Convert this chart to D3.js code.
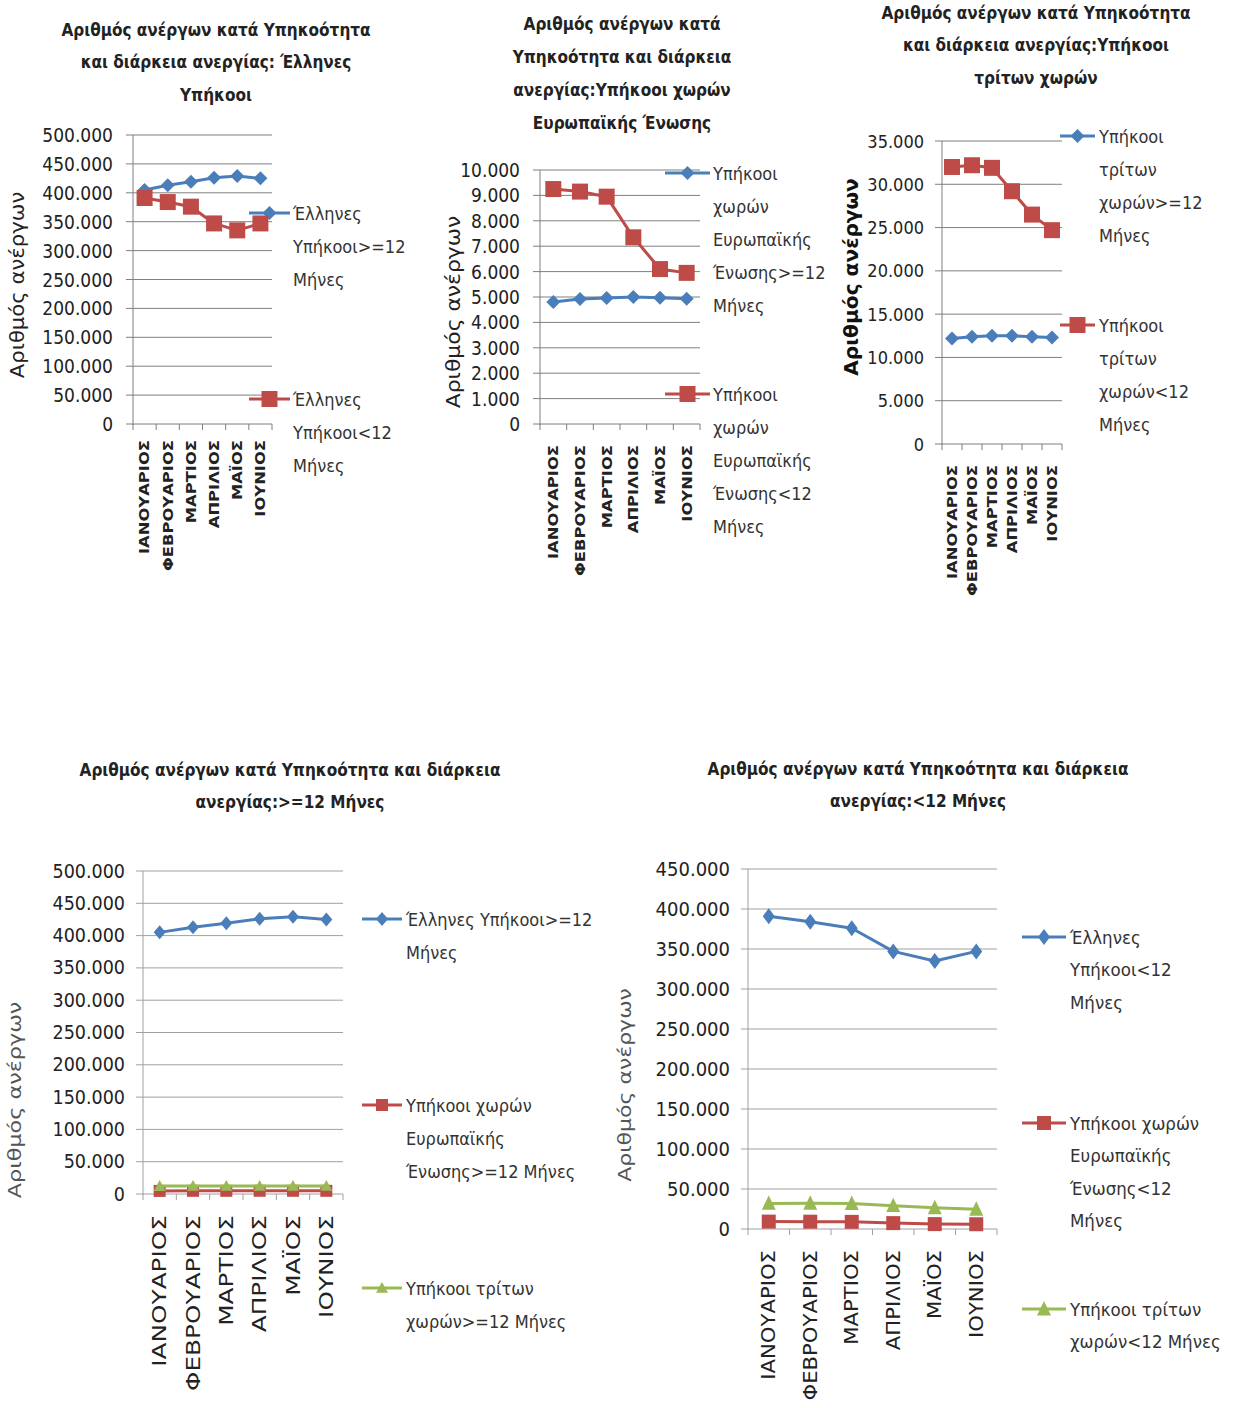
<!DOCTYPE html>
<html><head><meta charset="utf-8">
<script src="https://cdn.jsdelivr.net/npm/d3@7"></script>
<style>
body{margin:0;background:#fff}
svg{display:block}
text{font-family:"Liberation Sans Narrow","DejaVu Sans Condensed","Noto Sans",sans-serif;}
</style></head><body>
<svg id="c" width="1239" height="1408"></svg>
<script>
// ---------- DATA ----------
const months = ["ΙΑΝΟΥΑΡΙΟΣ","ΦΕΒΡΟΥΑΡΙΟΣ","ΜΑΡΤΙΟΣ","ΑΠΡΙΛΙΟΣ","ΜΑΪΟΣ","ΙΟΥΝΙΟΣ"];
const greekLong  = [405000,413000,419000,426000,429000,425000];
const greekShort = [391000,384000,376000,347000,335000,347000];
const euLong     = [4800,4920,4960,5000,4970,4930];
const euShort    = [9250,9150,8950,7350,6100,5950];
const thirdLong  = [12200,12400,12500,12500,12400,12300];
const thirdShort = [32000,32200,31900,29200,26500,24700];

const ticksGreek = [0,50000,100000,150000,200000,250000,300000,350000,400000,450000,500000];
const ticksEU    = [0,1000,2000,3000,4000,5000,6000,7000,8000,9000,10000];
const ticksThird = [0,5000,10000,15000,20000,25000,30000,35000];
const ticksShort = [0,50000,100000,150000,200000,250000,300000,350000,400000,450000];

const titles = [
  ["Αριθμός ανέργων κατά Υπηκοότητα","και διάρκεια ανεργίας: Έλληνες","Υπήκοοι"],
  ["Αριθμός ανέργων κατά","Υπηκοότητα και διάρκεια","ανεργίας:Υπήκοοι χωρών","Ευρωπαϊκής Ένωσης"],
  ["Αριθμός ανέργων κατά Υπηκοότητα","και διάρκεια ανεργίας:Υπήκοοι","τρίτων χωρών"],
  ["Αριθμός ανέργων κατά Υπηκοότητα και διάρκεια","ανεργίας:>=12 Μήνες"],
  ["Αριθμός ανέργων κατά Υπηκοότητα και διάρκεια","ανεργίας:<12 Μήνες"]
];
const yAxisTitle = "Αριθμός ανέργων";
const legendGreekLong  = ["Έλληνες","Υπήκοοι>=12","Μήνες"];
const legendGreekShort = ["Έλληνες","Υπήκοοι<12","Μήνες"];
const legendEULongTop  = ["Υπήκοοι","χωρών","Ευρωπαϊκής","Ένωσης>=12","Μήνες"];
const legendEUShortTop = ["Υπήκοοι","χωρών","Ευρωπαϊκής","Ένωσης<12","Μήνες"];
const legendThirdLongTop  = ["Υπήκοοι","τρίτων","χωρών>=12","Μήνες"];
const legendThirdShortTop = ["Υπήκοοι","τρίτων","χωρών<12","Μήνες"];
const legendGreekLongB = ["Έλληνες Υπήκοοι>=12","Μήνες"];
const legendEULongB    = ["Υπήκοοι χωρών","Ευρωπαϊκής","Ένωσης>=12 Μήνες"];
const legendThirdLongB = ["Υπήκοοι τρίτων","χωρών>=12 Μήνες"];
const legendGreekShortB = ["Έλληνες","Υπήκοοι<12","Μήνες"];
const legendEUShortB    = ["Υπήκοοι χωρών","Ευρωπαϊκής","Ένωσης<12","Μήνες"];
const legendThirdShortB = ["Υπήκοοι τρίτων","χωρών<12 Μήνες"];

// ---------- STYLE / LAYOUT ----------
const BLUE="#4a7ebb", RED="#be4b48", GREEN="#98b954";
const loc = d3.formatLocale({decimal:",",thousands:".",grouping:[3],currency:["","€"]});
const fmt = loc.format(",d");

const charts = [
 {title:titles[0], tX:216, tY:[30,62,95], tSize:17,
  x0:133,x1:272,yTop:135,yBot:424,max:500000,ticks:ticksGreek,tickR:113,tickSize:19,grid:"#7f7f7f",
  yt:{x:17,y:285,size:19,bold:false,color:"#222",sx:1.24},
  xl:{y:440,size:14,bold:true,sx:1.3},
  lg:{x0:249,x1:290,tx:293,lh:33,size:18},
  lw:3,
  series:[
   {data:greekLong,color:BLUE,m:"diamond",ms:[7,7],legend:legendGreekLong,ly:213},
   {data:greekShort,color:RED,m:"square",ms:[8,8],legend:legendGreekShort,ly:399}]},
 {title:titles[1], tX:622, tY:[24,57,90,123], tSize:17,
  x0:540,x1:700,yTop:170,yBot:424,max:10000,ticks:ticksEU,tickR:520,tickSize:19,grid:"#7f7f7f",
  yt:{x:453,y:312,size:19,bold:false,color:"#222",sx:1.28},
  xl:{y:445,size:14,bold:true,sx:1.3},
  lg:{x0:665,x1:710,tx:713,lh:33,size:18},
  lw:3,
  series:[
   {data:euLong,color:BLUE,m:"diamond",ms:[7,7],legend:legendEULongTop,ly:173},
   {data:euShort,color:RED,m:"square",ms:[8,8],legend:legendEUShortTop,ly:394}]},
 {title:titles[2], tX:1036, tY:[13,45,78], tSize:17,
  x0:942,x1:1062,yTop:141,yBot:444,max:35000,ticks:ticksThird,tickR:924,tickSize:18,grid:"#7f7f7f",
  yt:{x:851,y:277,size:19,bold:true,color:"#111",sx:1.18},
  xl:{y:465,size:14,bold:true,sx:1.3},
  lg:{x0:1060,x1:1095,tx:1099,lh:33,size:18},
  lw:3,
  series:[
   {data:thirdLong,color:BLUE,m:"diamond",ms:[7,7],legend:legendThirdLongTop,ly:136},
   {data:thirdShort,color:RED,m:"square",ms:[8,8],legend:legendThirdShortTop,ly:325}]},
 {title:titles[3], tX:290, tY:[770,802], tSize:17,
  x0:143,x1:343,yTop:871,yBot:1194,max:500000,ticks:ticksGreek,tickR:125,tickSize:19.5,grid:"#a0a0a0",
  yt:{x:15,y:1100,size:18,bold:false,color:"#555",sx:1.38},
  xl:{y:1215,size:19,bold:false,sx:1.45},
  lg:{x0:362,x1:402,tx:406,lh:33,size:18},
  lw:3,
  series:[
   {data:greekLong,color:BLUE,m:"diamond",ms:[6,7],legend:legendGreekLongB,ly:919},
   {data:euLong,color:RED,m:"square",ms:[6,6],legend:legendEULongB,ly:1105},
   {data:thirdLong,color:GREEN,m:"triangle",ms:[6,6],legend:legendThirdLongB,ly:1288}]},
 {title:titles[4], tX:918, tY:[769,801], tSize:17,
  x0:748,x1:997,yTop:869,yBot:1229,max:450000,ticks:ticksShort,tickR:730,tickSize:20,grid:"#a0a0a0",
  yt:{x:625,y:1085,size:18,bold:false,color:"#555",sx:1.36},
  xl:{y:1250,size:19,bold:false,sx:1.24},
  lg:{x0:1022,x1:1066,tx:1070,lh:32.5,size:18.5},
  lw:3,
  series:[
   {data:greekShort,color:BLUE,m:"diamond",ms:[6,8],legend:legendGreekShortB,ly:937},
   {data:euShort,color:RED,m:"square",ms:[7,7],legend:legendEUShortB,ly:1123},
   {data:thirdShort,color:GREEN,m:"triangle",ms:[7,8],legend:legendThirdShortB,ly:1309}]}
];

function markerPath(type,w,h){
  if(type==="diamond") return `M0,${-h}L${w},0L0,${h}L${-w},0Z`;
  if(type==="square") return `M${-w},${-h}H${w}V${h}H${-w}Z`;
  return `M0,${-h}L${w},${h*0.8}L${-w},${h*0.8}Z`;
}

const svg = d3.select("#c");

charts.forEach(c=>{
  const g = svg.append("g");
  // title
  g.append("g").selectAll("text").data(c.title).join("text")
    .attr("x",c.tX).attr("y",(d,i)=>c.tY[i]).attr("text-anchor","middle")
    .attr("dominant-baseline","central").attr("font-size",c.tSize).attr("font-weight","bold")
    .attr("fill","#222").text(d=>d);

  const x = d3.scaleBand().domain(months).range([c.x0,c.x1]);
  const y = d3.scaleLinear().domain([0,c.max]).range([c.yBot,c.yTop]);

  // gridlines
  g.append("g").selectAll("line").data(c.ticks).join("line")
    .attr("x1",c.x0-7).attr("x2",c.x1).attr("y1",d=>y(d)).attr("y2",d=>y(d))
    .attr("stroke",c.grid).attr("stroke-width",1);
  // y tick labels
  g.append("g").selectAll("text").data(c.ticks).join("text")
    .attr("x",c.tickR).attr("y",d=>y(d)).attr("text-anchor","end")
    .attr("dominant-baseline","central").attr("font-size",c.tickSize).attr("fill","#222")
    .text(d=>fmt(d));
  // y axis line
  g.append("line").attr("x1",c.x0).attr("x2",c.x0).attr("y1",c.yTop).attr("y2",c.yBot+1)
    .attr("stroke",c.grid);
  // x axis with ticks at band boundaries
  const bounds = months.map(m=>x(m)).concat([c.x1]);
  g.append("g").selectAll("line").data(bounds).join("line")
    .attr("x1",d=>d).attr("x2",d=>d).attr("y1",c.yBot).attr("y2",c.yBot+6).attr("stroke",c.grid);
  // x labels
  g.append("g").selectAll("text").data(months).join("text")
    .attr("transform",d=>`translate(${x(d)+x.bandwidth()/2},${c.xl.y}) rotate(-90) scale(${c.xl.sx},1)`)
    .attr("text-anchor","end").attr("dy","0.35em")
    .attr("font-size",c.xl.size).attr("font-weight",c.xl.bold?"bold":"normal").attr("fill","#222")
    .text(d=>d);
  // y title
  g.append("text").attr("transform",`translate(${c.yt.x},${c.yt.y}) rotate(-90) scale(${c.yt.sx},1)`)
    .attr("text-anchor","middle").attr("dy","0.35em").attr("font-size",c.yt.size)
    .attr("font-weight",c.yt.bold?"bold":"normal").attr("fill",c.yt.color).text(yAxisTitle);

  // series
  const line = d3.line().x((d,i)=>x(months[i])+x.bandwidth()/2).y(d=>y(d));
  c.series.forEach(s=>{
    g.append("path").datum(s.data).attr("d",line).attr("fill","none")
      .attr("stroke",s.color).attr("stroke-width",c.lw).attr("stroke-linejoin","round");
    g.append("g").selectAll("path").data(s.data).join("path")
      .attr("transform",(d,i)=>`translate(${x(months[i])+x.bandwidth()/2},${y(d)})`)
      .attr("d",markerPath(s.m,s.ms[0],s.ms[1])).attr("fill",s.color);
    // legend
    const lg = g.append("g");
    lg.append("line").attr("x1",c.lg.x0).attr("x2",c.lg.x1).attr("y1",s.ly).attr("y2",s.ly)
      .attr("stroke",s.color).attr("stroke-width",c.lw);
    lg.append("path").attr("transform",`translate(${(c.lg.x0+c.lg.x1)/2},${s.ly})`)
      .attr("d",markerPath(s.m,s.ms[0],s.ms[1])).attr("fill",s.color);
    lg.selectAll("text").data(s.legend).join("text")
      .attr("x",c.lg.tx).attr("y",(d,i)=>s.ly+i*c.lg.lh).attr("dominant-baseline","central")
      .attr("font-size",c.lg.size).attr("fill","#333").text(d=>d);
  });
});
</script></body></html>
